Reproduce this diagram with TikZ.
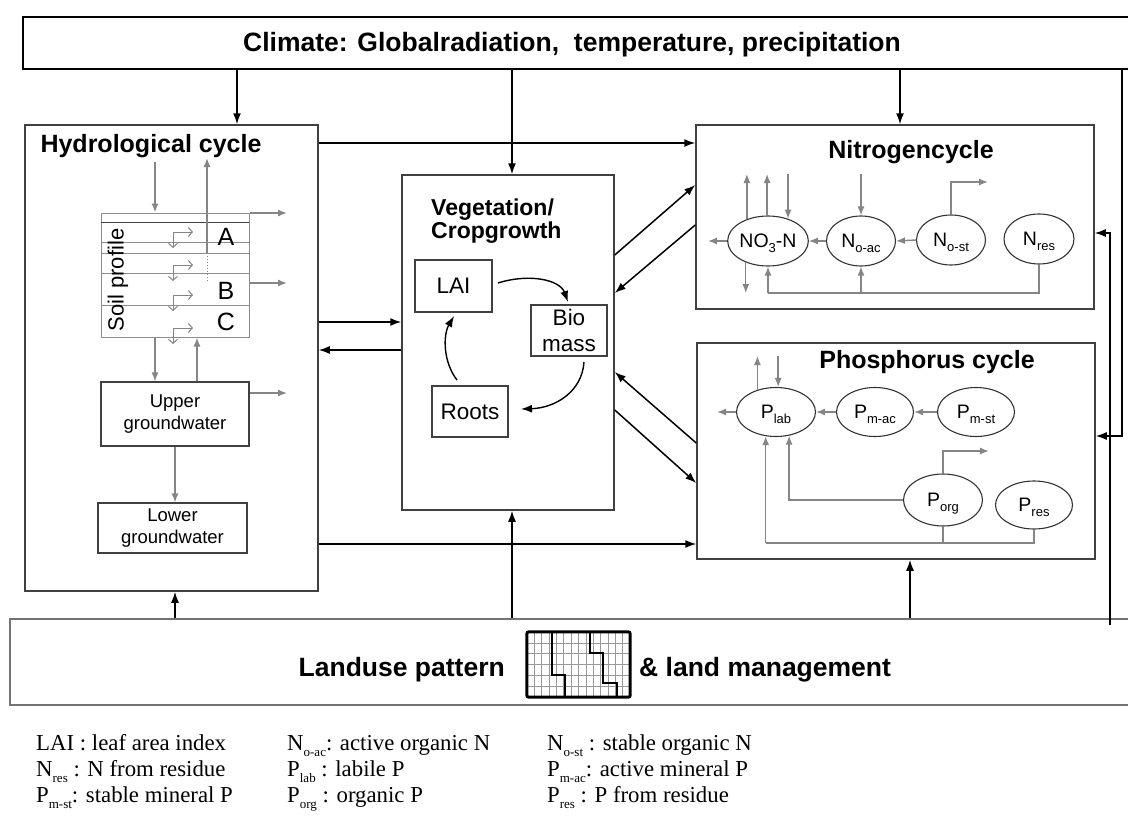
\documentclass[tikz,border=0pt]{standalone}
\usepackage{fontspec}
\setmainfont{Liberation Sans}
\newfontfamily\lserif{Liberation Serif}
\usetikzlibrary{arrows.meta,shapes.geometric,calc}
\newcommand{\fsz}[2][]{\fontsize{#2}{#2}\selectfont}
\newcommand{\sbs}[1]{\raisebox{-4.5pt}[0pt][0pt]{\fontsize{13}{13}\selectfont #1}}
\newcommand{\lsb}[1]{\raisebox{-6pt}{\fontsize{13}{13}\selectfont #1}}
\begin{document}
\begin{tikzpicture}[x=1pt,y=-1pt]
\tikzset{
 bigbox/.style={rectangle, draw=black!75, line width=1.5pt, inner sep=0pt},
 smallbox/.style={rectangle, draw=black!75, line width=1.2pt, inner sep=0pt, align=center, font=\fontsize{18.5}{22}\selectfont},
 vegbox/.style={rectangle, draw=black!75, line width=1.2pt, inner sep=0pt, align=center, font=\fontsize{22.5}{26}\selectfont},
 pool/.style={ellipse, draw=black!80, line width=1.1pt, inner sep=0pt, font=\fsz{19.5}},
 ttl/.style={font=\bfseries\fsz{25}, inner sep=0pt},
 barrow/.style={draw=black, line width=1.5pt, -{Latex[length=11pt,width=8pt]}},
 garrow/.style={draw=black!48, line width=1.4pt, -{Latex[length=9pt,width=7pt]}},
 gline/.style={draw=black!48, line width=1.4pt},
 sarrow/.style={draw=black!48, line width=1pt, -{Straight Barb[length=4pt,width=9pt]}},
 legtxt/.style={font=\lserif\fsz{22.8}, anchor=base west, inner sep=0pt},
 soilline/.style={draw=black!45, line width=1pt},
}
\useasboundingbox (0,0) rectangle (1128,819);
\clip (0,0) rectangle (1128,819);
\fill[white] (0,0) rectangle (1128,819);

% ---------- Climate ----------
\node[rectangle, draw=black, line width=2.6pt, inner sep=0pt, minimum width=1140, minimum height=52] (climate) at (593,43) {};
\node[font=\bfseries\fsz{26.5}, inner sep=0pt] (climtxt) at (572,45) {Climate: Globalradiation,\ \ temperature, precipitation};

% ---------- Landuse ----------
\node[rectangle, draw=black!55, line width=1.5pt, inner sep=0pt, minimum width=1150, minimum height=86] (landuse) at (585,662) {};
\node[font=\bfseries\fsz{26.5}, inner sep=0pt, anchor=east] (lutxt) at (505,670) {Landuse pattern};
\node[font=\bfseries\fsz{26.5}, inner sep=0pt, anchor=west] (lmtxt) at (639,670) {\& land management};
\node[rectangle, inner sep=0pt, minimum width=103, minimum height=65] (icon) at (578.5,664.5) {};
\foreach \i in {1,...,13} {\draw[black!40, line width=0.6pt] ({527+\i*103/14},632) -- ({527+\i*103/14},697);}
\foreach \j in {1,...,5} {\draw[black!40, line width=0.6pt] (527,{632+\j*65/6}) -- (630,{632+\j*65/6});}
\draw[black, line width=2.6pt] (552,632) -- (552,675) -- (565,675) -- (565,697);
\draw[black, line width=2.6pt] (590,632) -- (590,653) -- (603,653) -- (603,683) -- (617,683) -- (617,697);
\draw[black, line width=3pt, rounded corners=2pt] (icon.north west) rectangle (icon.south east);

% ---------- Hydrological cycle ----------
\node[bigbox, minimum width=293, minimum height=466] (hydro) at (171.5,358) {};
\node[ttl] (hydrot) at (151,146) {Hydrological cycle};
\node[rectangle, draw=black!45, line width=1pt, inner sep=0pt, minimum width=148, minimum height=124] (soil) at (175,275) {};
\draw[black!75, line width=1pt] (101,222) -- (249,222);
\foreach \yy in {242,253,273,305} {\draw[soilline] (101,\yy) -- (249,\yy);}
\node[rotate=90, font=\fsz{22}, inner sep=0pt] (soiltxt) at (118,280) {Soil profile};
\node[font=\fsz{25}, inner sep=0pt] (lA) at (226,237) {A};
\node[font=\fsz{25}, inner sep=0pt] (lB) at (226,291) {B};
\node[font=\fsz{25}, inner sep=0pt] (lC) at (226,322) {C};
\foreach \yy in {232,265,295,328} {
  \draw[sarrow] (173,\yy) -- (193,\yy);
  \draw[sarrow] (173,\yy) -- (173,{\yy+16});
}
\coordinate (evtop) at (207,158);
\coordinate (evbot) at (207,253);
\draw[garrow] (evbot) -- (evtop);
\draw[black!48, line width=1pt, dotted] (evbot) -- (207,282);
\coordinate (prtop) at (155,162);
\draw[garrow] (prtop) -- (prtop |- soil.north);
\coordinate (o1) at (287,213);
\coordinate (o2) at (287,283);
\coordinate (o3) at (287,393);
\draw[garrow] (soil.east |- o1) -- (o1);
\draw[garrow] (soil.east |- o2) -- (o2);

\node[smallbox, minimum width=148, minimum height=64] (upper) at (175,414) {Upper\\groundwater};
\node[smallbox, minimum width=149, minimum height=50] (lower) at (172.5,528) {Lower\\groundwater};
\draw[garrow] (upper.east |- o3) -- (o3);
\coordinate (d1) at (155,0);
\coordinate (d2) at (197,0);
\coordinate (d3) at (175,0);
\draw[garrow] (d1 |- soil.south) -- (d1 |- upper.north);
\draw[garrow] (d2 |- upper.north) -- (d2 |- soil.south);
\draw[garrow] (d3 |- upper.south) -- (d3 |- lower.north);

% ---------- Vegetation ----------
\node[bigbox, minimum width=212, minimum height=335] (veg) at (508,342.5) {};
\node[font=\bfseries\fontsize{23}{22.5}\selectfont, align=left, inner sep=0pt, anchor=north west] (vegt) at (431,199) {Vegetation/\\Cropgrowth};
\node[vegbox, minimum width=77, minimum height=52] (lai) at (453.5,286) {LAI};
\node[vegbox, minimum width=76, minimum height=51] (bio) at (569,330.5) {Bio\\mass};
\node[vegbox, minimum width=76, minimum height=51] (roots) at (470,411.5) {Roots};
\draw[barrow, line width=1.4pt] (498,283) .. controls (530,273) and (560,280) .. (568,302);
\draw[barrow, line width=1.4pt] (584,362) .. controls (582,392) and (555,408) .. (521,409);
\draw[barrow, line width=1.4pt] (457,380) .. controls (443,362) and (443,335) .. (454,316);

% ---------- Nitrogen cycle ----------
\node[bigbox, minimum width=398, minimum height=184] (N) at (895,217) {};
\node[ttl] (Nt) at (911,152) {Nitrogencycle};
\node[pool, minimum width=72, minimum height=50] (no3) at (768,241) {NO\sbs{3}-N};
\node[pool, minimum width=69, minimum height=50] (noac) at (861,241) {N\sbs{o-ac}};
\node[pool, minimum width=69, minimum height=50] (nost) at (951,240) {N\sbs{o-st}};
\node[pool, minimum width=70, minimum height=50] (nres) at (1039,239) {N\sbs{res}};
\coordinate (nout) at (708,241);
\coordinate (ntop) at (0,174);
\coordinate (nbase) at (0,293);
\coordinate (nstr) at (988,182);
\draw[garrow] (no3.west) -- (nout);
\draw[garrow] (noac.west) -- (no3.east);
\draw[garrow] (nost.west) -- (noac.east);
\draw[garrow] (no3.134) -- (no3.134 |- ntop);
\draw[garrow] (no3.92) -- (no3.92 |- ntop);
\draw[garrow] (no3.48 |- ntop) -- (no3.48);
\draw[garrow] (noac.north |- ntop) -- (noac.north);
\draw[garrow] (no3.224) -- (no3.224 |- nbase);
\draw[gline] (nres.south) -- (nres.south |- nbase) -- (no3.south |- nbase);
\draw[garrow] (no3.south |- nbase) -- (no3.south);
\draw[garrow] (noac.south |- nbase) -- (noac.south);
\draw[garrow] (nost.north) |- (nstr);

% ---------- Phosphorus cycle ----------
\node[bigbox, minimum width=398, minimum height=216] (P) at (896,451) {};
\node[ttl] (Pt) at (927,362) {Phosphorus cycle};
\node[pool, minimum width=79, minimum height=49] (plab) at (776,412) {P\sbs{lab}};
\node[pool, minimum width=77, minimum height=49] (pmac) at (875,412) {P\sbs{m-ac}};
\node[pool, minimum width=77, minimum height=49] (pmst) at (976,412) {P\sbs{m-st}};
\node[pool, minimum width=79, minimum height=52] (porg) at (943,500) {P\sbs{org}};
\node[pool, minimum width=77, minimum height=48] (pres) at (1034,505) {P\sbs{res}};
\coordinate (pout) at (717,412);
\coordinate (ptop) at (0,356);
\coordinate (pbase) at (0,543);
\coordinate (pstr) at (989,451);
\draw[garrow] (plab.west) -- (pout);
\draw[garrow] (pmac.west) -- (plab.east);
\draw[garrow] (pmst.west) -- (pmac.east);
\draw[garrow] (plab.130) -- (plab.130 |- ptop);
\draw[garrow] (plab.85 |- ptop) -- (plab.85);
\draw[garrow] (porg.west) -| (plab.299);
\draw[gline] (pres.south) |- (plab.247 |- pbase);
\draw[garrow] (plab.247 |- pbase) -- (plab.247);
\draw[gline] (porg.south) -- (porg.south |- pbase);
\draw[garrow] (porg.north) |- (pstr);

% ---------- Main connectors ----------
\coordinate (ch) at (237,0);
\coordinate (cv) at (512,0);
\coordinate (cn) at (900,0);
\draw[barrow] (ch |- climate.south) -- (ch |- hydro.north);
\draw[barrow] (cv |- climate.south) -- (cv |- veg.north);
\draw[barrow] (cn |- climate.south) -- (cn |- N.north);
\coordinate (rtop) at (1122,0);
\coordinate (rcorner) at (1122,436);
\draw[barrow] (rtop |- climate.south) -- (rcorner) -- (P.east |- rcorner);
\coordinate (lucorner) at (1110,233);
\coordinate (lubot) at (1110,625);
\draw[barrow] (lubot) -- (lucorner) -- (N.east |- lucorner);

\coordinate (yhn) at (0,143);
\coordinate (yhv) at (0,322);
\coordinate (yvh) at (0,350);
\coordinate (yhp) at (0,544);
\draw[barrow] (hydro.east |- yhn) -- (N.west |- yhn);
\draw[barrow] (hydro.east |- yhv) -- (veg.west |- yhv);
\draw[barrow] (veg.west |- yvh) -- (hydro.east |- yvh);
\draw[barrow] (hydro.east |- yhp) -- (P.west |- yhp);

\coordinate (y1) at (0,255);
\coordinate (y2) at (0,185);
\coordinate (y3) at (0,225);
\coordinate (y4) at (0,293);
\draw[barrow] (veg.east |- y1) -- (N.west |- y2);
\draw[barrow] (N.west |- y3) -- (veg.east |- y4);
\coordinate (y5) at (0,443);
\coordinate (y6) at (0,372);
\coordinate (y7) at (0,410);
\coordinate (y8) at (0,483);
\draw[barrow] (P.west |- y5) -- (veg.east |- y6);
\draw[barrow] (veg.east |- y7) -- (P.west |- y8);

\coordinate (lh) at (175,0);
\coordinate (lp) at (910,0);
\draw[barrow] (lh |- landuse.north) -- (lh |- hydro.south);
\draw[barrow] (cv |- landuse.north) -- (cv |- veg.south);
\draw[barrow] (lp |- landuse.north) -- (lp |- P.south);

% ---------- Legend ----------
\node[legtxt] (lg1) at (36,750) {LAI : leaf area index};
\node[legtxt] (lg2) at (287,750) {N\lsb{o-ac}: active organic N};
\node[legtxt] (lg3) at (547,750) {N\lsb{o-st} : stable organic N};
\node[legtxt] (lg4) at (36,776) {N\lsb{res} : N from residue};
\node[legtxt] (lg5) at (287,776) {P\lsb{lab} : labile P};
\node[legtxt] (lg6) at (547,776) {P\lsb{m-ac}: active mineral P};
\node[legtxt] (lg7) at (36,802) {P\lsb{m-st}: stable mineral P};
\node[legtxt] (lg8) at (287,802) {P\lsb{org} : organic P};
\node[legtxt] (lg9) at (547,802) {P\lsb{res} : P from residue};
\end{tikzpicture}
\end{document}
